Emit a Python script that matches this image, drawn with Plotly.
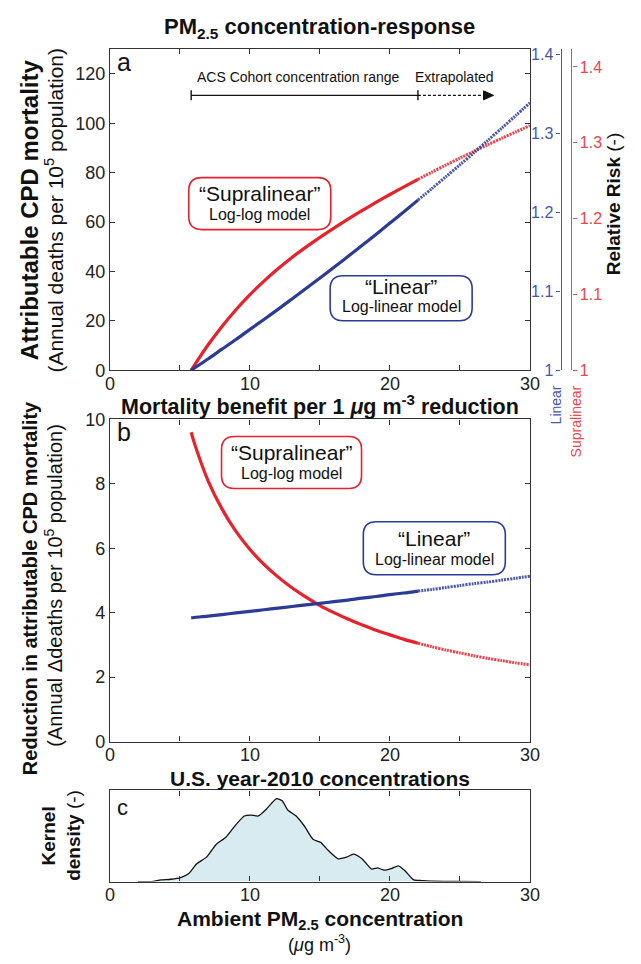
import plotly.graph_objects as go

# ---------------- data ----------------
conc = [5.8, 6, 7, 8, 9, 10, 11, 12, 13, 14, 15, 16, 17, 18, 19, 20, 21, 22, 23, 24, 25, 26, 27, 28, 29, 30]
linear_mortality = [0, 0.8, 4.6, 8.6, 12.5, 16.6, 20.6, 24.7, 28.9, 33.1, 37.4, 41.7, 46.1, 50.5, 55.0,
                    59.6, 64.2, 68.9, 73.6, 78.4, 83.2, 88.1, 93.1, 98.1, 103.2, 108.3]
supralinear_mortality = [0, 1.8, 10.25, 17.8, 24.55, 30.65, 36.15, 41.15, 45.7, 49.9, 53.85, 57.6, 61.2,
                         64.65, 67.97, 71.18, 74.29, 77.31, 80.25, 83.12, 85.92, 88.66, 91.34, 93.97,
                         96.55, 99.08]
linear_benefit = [3.84, 3.85, 3.89, 3.94, 3.99, 4.04, 4.09, 4.14, 4.19, 4.24, 4.29, 4.34, 4.39, 4.45,
                  4.50, 4.56, 4.61, 4.67, 4.72, 4.78, 4.84, 4.90, 4.95, 5.01, 5.07, 5.13]
supralinear_benefit = [9.60, 9.30, 8.10, 7.22, 6.52, 5.96, 5.50, 5.11, 4.77, 4.48, 4.22, 4.00, 3.80, 3.62,
                       3.45, 3.31, 3.17, 3.05, 2.94, 2.84, 2.75, 2.66, 2.58, 2.51, 2.44, 2.38]

cohort_min = 5.8
cohort_max = 22.0
extrapolated_end = 27.4

kde_conc = [2.0, 2.96, 3.65, 4.35, 5.05, 5.63, 6.2, 6.9, 7.6, 8.3, 9.0, 9.6, 10.05, 10.6, 11.2, 11.9, 12.3,
            12.7, 13.3, 13.9, 14.5, 15.05, 15.6, 16.3, 16.9, 17.4, 18.0, 18.7, 19.1, 19.6, 20.1, 20.6,
            21.1, 21.7, 22.3, 23.0, 24.6, 26.5]
kde_density = [0, 0.0, 0.018, 0.025, 0.043, 0.089, 0.196, 0.268, 0.41, 0.49, 0.625, 0.72, 0.73, 0.72, 0.80,
               0.91, 0.886, 0.786, 0.72, 0.607, 0.464, 0.43, 0.34, 0.25, 0.268, 0.30, 0.25, 0.136, 0.15,
               0.125, 0.143, 0.171, 0.114, 0.018, 0.011, 0.004, 0.001, 0.0]

rr_ticks = [1.0, 1.1, 1.2, 1.3, 1.4]
rr_labels = ["1", "1.1", "1.2", "1.3", "1.4"]
x_ticks = [0, 5, 10, 15, 20, 25, 30]
x_labels = ["0", "", "10", "", "20", "", "30"]

# ---------------- styling ----------------
FONT = "Liberation Sans, Arial, Helvetica, sans-serif"
RED = "#e8212a"
BLUE = "#2b3b96"
BLUE_AX = "#4656b0"
RED_AX = "#f0454a"
INK = "#222222"
AX = "#333333"

W, H = 641, 964
def px_x(p):
    return p / W
def px_y(p):
    return 1 - p / H

XDOM = [px_x(107.5), px_x(537.5)]
YDOM_A = [px_y(368), px_y(40)]
YDOM_B = [px_y(747), px_y(418)]
YDOM_C = [px_y(890), px_y(797)]


def split(xs, ys, cut):
    solid = [(x, y) for x, y in zip(xs, ys) if x <= cut]
    dotted = [(x, y) for x, y in zip(xs, ys) if x >= cut]
    return ([p[0] for p in solid], [p[1] for p in solid]), ([p[0] for p in dotted], [p[1] for p in dotted])


fig = go.Figure()


def add_curve(xs, ys, color, xa, ya):
    (sx, sy), (dx, dy) = split(xs, ys, cohort_max)
    fig.add_trace(go.Scatter(x=sx, y=sy, mode="lines",
                             line=dict(color=color, width=3.2, shape="spline", smoothing=0.8),
                             xaxis=xa, yaxis=ya, showlegend=False, hoverinfo="skip"))
    fig.add_trace(go.Scatter(x=dx, y=dy, mode="lines",
                             line=dict(color=color, width=3, dash="2px,1px", shape="spline", smoothing=0.8),
                             opacity=0.85, xaxis=xa, yaxis=ya, showlegend=False, hoverinfo="skip"))


add_curve(conc, supralinear_mortality, RED, "x", "y")
add_curve(conc, linear_mortality, BLUE, "x", "y")
add_curve(conc, supralinear_benefit, RED, "x2", "y2")
add_curve(conc, linear_benefit, BLUE, "x2", "y2")

fig.add_trace(go.Scatter(x=kde_conc, y=kde_density, mode="lines", fill="tozeroy",
                         fillcolor="#d8ebf0", line=dict(color="#111111", width=1.3, shape="spline", smoothing=0.6),
                         xaxis="x3", yaxis="y3", showlegend=False, hoverinfo="skip"))

# invisible traces so the relative-risk axes are drawn
fig.add_trace(go.Scatter(x=[None], y=[None], xaxis="x", yaxis="y4", showlegend=False, hoverinfo="skip"))
fig.add_trace(go.Scatter(x=[None], y=[None], xaxis="x", yaxis="y5", showlegend=False, hoverinfo="skip"))

base_axis = dict(showline=True, linecolor=AX, linewidth=1.4, mirror="ticks", ticks="inside", ticklen=5,
                 tickcolor=AX, tickwidth=1.2, showgrid=False, zeroline=False,
                 tickfont=dict(family=FONT, size=18, color=INK), fixedrange=True)

xa = dict(base_axis, domain=XDOM, range=[0, 30], tickmode="array", tickvals=x_ticks, ticktext=x_labels,
          ticklabelstandoff=-3)

rr_axis = dict(overlaying="y", anchor="free", tickmode="array", tickvals=rr_ticks, ticktext=rr_labels,
               ticks="outside", ticklen=4, showline=True, linewidth=1.4, showgrid=False, zeroline=False,
               fixedrange=True)

fig.update_layout(
    width=W, height=H, autosize=False,
    margin=dict(l=0, r=0, t=0, b=0),
    paper_bgcolor="white", plot_bgcolor="white",
    font=dict(family=FONT, color=INK),
    xaxis=dict(xa, anchor="y"),
    yaxis=dict(base_axis, domain=YDOM_A, range=[0, 130], tickmode="array",
               tickvals=[0, 20, 40, 60, 80, 100, 120], anchor="x"),
    xaxis2=dict(xa, anchor="y2"),
    yaxis2=dict(base_axis, domain=YDOM_B, range=[0, 10], tickmode="array",
                tickvals=[0, 2, 4, 6, 8, 10], anchor="x2"),
    xaxis3=dict(xa, anchor="y3"),
    yaxis3=dict(base_axis, domain=YDOM_C, range=[0, 1], showticklabels=False, ticks="", anchor="x3"),
    yaxis4=dict(rr_axis, position=px_x(569), side="left", range=[1, 1.4065], tickcolor=BLUE_AX,
                linecolor=BLUE_AX, tickfont=dict(family=FONT, size=16, color=BLUE_AX)),
    yaxis5=dict(rr_axis, position=px_x(580), side="right", range=[1, 1.4235], tickcolor=RED_AX,
                linecolor=RED_AX, tickfont=dict(family=FONT, size=16, color=RED_AX)),
)

shapes = []
annotations = []


def rounded_box(xref, yref, cx, cy, w, h, r, color):
    a, b = w / 2, h / 2
    path = (f"M {-a + r},{-b} L {a - r},{-b} Q {a},{-b} {a},{-b + r} L {a},{b - r} Q {a},{b} {a - r},{b} "
            f"L {-a + r},{b} Q {-a},{b} {-a},{b - r} L {-a},{-b + r} Q {-a},{-b} {-a + r},{-b} Z")
    shapes.append(dict(type="path", xref=xref, yref=yref, xsizemode="pixel", ysizemode="pixel",
                       xanchor=cx, yanchor=cy, path=path, line=dict(color=color, width=1.6),
                       fillcolor="rgba(0,0,0,0)"))


def box_text(xref, yref, cx, cy, title, sub, up=10, down=-10):
    annotations.append(dict(x=cx, y=cy, xref=xref, yref=yref, text=title, showarrow=False, yshift=up,
                            font=dict(family=FONT, size=21, color="#111")))
    annotations.append(dict(x=cx, y=cy, xref=xref, yref=yref, text=sub, showarrow=False, yshift=down,
                            font=dict(family=FONT, size=16, color="#111")))


# model label boxes
rounded_box("x", "y", 10.7, 67.5, 142, 52, 13, RED)
box_text("x", "y", 10.7, 67.5, "“Supralinear”", "Log-log model", 10, -11)
rounded_box("x", "y", 20.8, 29.2, 142, 45, 13, BLUE)
box_text("x", "y", 20.8, 29.2, "“Linear”", "Log-linear model", 12, -8)
rounded_box("x2", "y2", 12.97, 8.66, 140, 52, 13, RED)
box_text("x2", "y2", 12.97, 8.66, "“Supralinear”", "Log-log model", 10, -11)
rounded_box("x2", "y2", 23.17, 6.0, 142, 53, 13, BLUE)
box_text("x2", "y2", 23.17, 6.0, "“Linear”", "Log-linear model", 10, -11)

# cohort range bar
BAR_Y = 111.3
shapes.append(dict(type="line", xref="x", yref="y", x0=cohort_min, x1=cohort_max, y0=BAR_Y, y1=BAR_Y,
                   line=dict(color="#111", width=1.4)))
shapes.append(dict(type="line", xref="x", yref="y", x0=cohort_max, x1=extrapolated_end - 0.3, y0=BAR_Y, y1=BAR_Y,
                   line=dict(color="#111", width=1.4, dash="3px,2px")))
for xv in (cohort_min, cohort_max):
    shapes.append(dict(type="line", xref="x", yref="y", ysizemode="pixel", yanchor=BAR_Y, y0=-5, y1=5,
                       x0=xv, x1=xv, line=dict(color="#111", width=1.4)))
shapes.append(dict(type="path", xref="x", yref="y", xsizemode="pixel", ysizemode="pixel",
                   xanchor=extrapolated_end, yanchor=BAR_Y, path="M 0,0 L -10,4.5 L -10,-4.5 Z",
                   fillcolor="#111", line=dict(color="#111", width=1)))
annotations.append(dict(x=(cohort_min + cohort_max) / 2 - 0.4, y=118.8, xref="x", yref="y",
                        text="ACS Cohort concentration range", showarrow=False,
                        font=dict(family=FONT, size=14, color="#111")))
annotations.append(dict(x=24.6, y=118.8, xref="x", yref="y", text="Extrapolated", showarrow=False,
                        font=dict(family=FONT, size=14, color="#111")))

# panel letters
for letter, yr, xr in (("a", "y", "x"), ("b", "y2", "x2"), ("c", "y3", "x3")):
    annotations.append(dict(x=0.012, y=1.01 if letter != "c" else 0.97, xref=xr + " domain", yref=yr + " domain",
                            text=letter, showarrow=False, xanchor="left", yanchor="top",
                            font=dict(family=FONT, size=25 if letter != "c" else 22, color="#111")))


def paper_text(x, y, text, size, angle=0, color="#111", xanchor="center", yanchor="middle"):
    annotations.append(dict(x=x, y=y, xref="paper", yref="paper", text=text, showarrow=False,
                            textangle=angle, xanchor=xanchor, yanchor=yanchor,
                            font=dict(family=FONT, size=size, color=color)))


XC = (XDOM[0] + XDOM[1]) / 2
paper_text(XC, px_y(18), "<b>PM<sub>2.5</sub> concentration-response</b>", 22)
paper_text(XC, px_y(403), "<b>Mortality benefit per 1 <i>μ</i>g m<sup>-3</sup> reduction</b>", 21.5)
paper_text(XC, px_y(785), "<b>U.S. year-2010 concentrations</b>", 21)
paper_text(XC, px_y(929), "<b>Ambient PM<sub>2.5</sub> concentration</b>", 21)
paper_text(XC, px_y(953), "(<i>μ</i>g m<sup>-3</sup>)", 18)

paper_text(px_x(25), px_y(204), "<b>Attributable CPD mortality</b>", 24, -90)
paper_text(px_x(50), px_y(204), "(Annual deaths per 10<sup>5</sup> population)", 21, -90)
paper_text(px_x(25), px_y(590), "<b>Reduction in attributable CPD mortality</b>", 20, -90)
paper_text(px_x(50), px_y(587), "(Annual Δdeaths per 10<sup>5</sup> population)", 20, -90)
paper_text(px_x(45), px_y(843), "<b>Kernel</b>", 19, -90)
paper_text(px_x(70), px_y(843), "<b>density</b> (-)", 19, -90)

paper_text(px_x(623), px_y(198), "<b>Relative Risk</b> (-)", 19, -90)
paper_text(px_x(564), px_y(381), "Linear", 14, -90, color=BLUE_AX, yanchor="top")
paper_text(px_x(585), px_y(381), "Supralinear", 14, -90, color=RED_AX, yanchor="top")

fig.update_layout(shapes=shapes, annotations=annotations)

fig.write_html("out.html", config={"displayModeBar": False},
               post_script="document.body.style.margin='0';document.body.style.overflow='hidden';")
